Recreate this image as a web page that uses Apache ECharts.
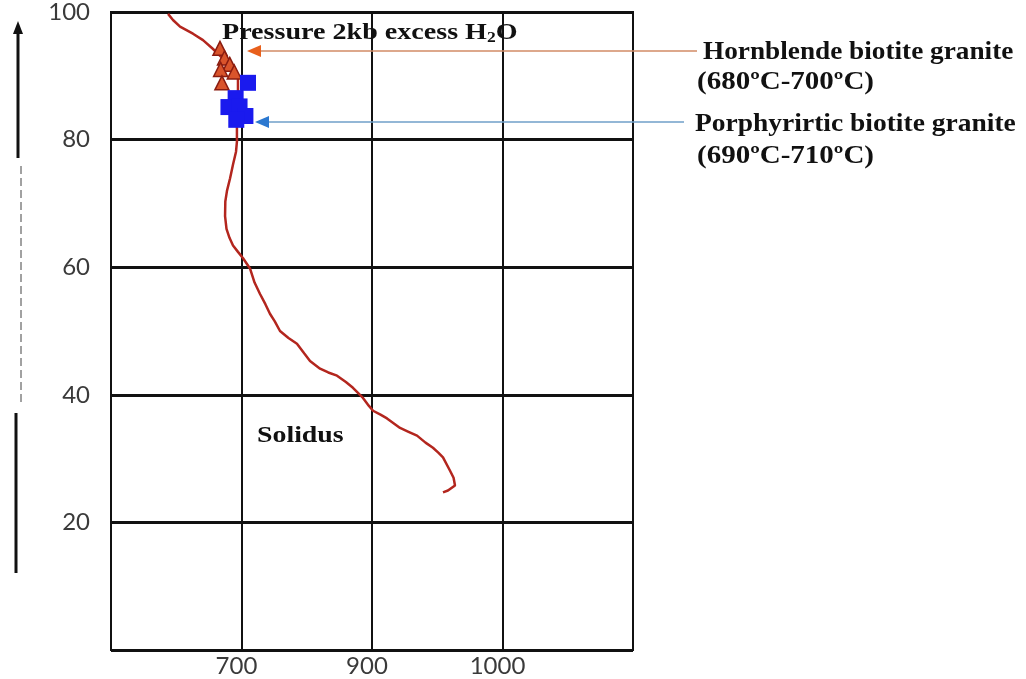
<!DOCTYPE html>
<html>
<head>
<meta charset="utf-8">
<script src="https://cdn.jsdelivr.net/npm/echarts@6/dist/echarts.min.js"></script>
<style>html,body{margin:0;padding:0;background:#fff}#c{width:1026px;height:679px}</style>
</head>
<body>
<div id="c"></div>
<script>
// x axis ticks (grid columns) and their printed labels
const xTicks = [600, 700, 800, 900, 1000];
const xTickLabels = ['', '700', '900', '1000', ''];
const yTicks = [0, 20, 40, 60, 80, 100];

// Solidus curve (x in axis units, y in axis units)
const solidusX = [643.7, 647.5, 652.9, 662.8, 670.5, 678.2, 685.8, 693.5, 697.3, 697.3, 696.5, 696.5, 696.5, 695.8, 693.5, 691.2, 688.9, 687.6, 687.4, 688.5, 690.8, 693.5, 697.3, 701.2, 706.5, 710.0, 714.2, 718.3, 721.8, 725.5, 729.5, 736.0, 742.5, 748.0, 752.5, 760.2, 766.5, 773.2, 780.0, 785.4, 793.1, 797.5, 800.8, 806.5, 811.5, 821.5, 828.0, 834.5, 841.0, 846.7, 851.0, 854.4, 859.8, 862.5, 863.6, 858.2, 854.4];
const solidusY = [99.7, 98.75, 97.7, 96.6, 95.6, 94.2, 92.7, 91.1, 89.5, 87.0, 84.4, 81.7, 79.7, 78.1, 76.1, 73.9, 72.0, 70.3, 68.0, 66.0, 64.6, 63.4, 62.4, 61.4, 59.8, 57.6, 55.8, 54.2, 52.7, 51.5, 50.0, 48.9, 48.0, 46.5, 45.3, 44.1, 43.5, 43.0, 42.0, 41.1, 39.5, 38.3, 37.5, 36.9, 36.3, 34.8, 34.2, 33.6, 32.5, 31.7, 30.9, 30.2, 28.1, 27.0, 25.8, 25.0, 24.7];

// Hornblende biotite granite samples (triangles)
const hbgX = [683.5, 687.0, 691.0, 684.0, 694.5, 685.0];
const hbgY = [94.3, 92.8, 91.8, 91.0, 90.6, 88.9];

// Porphyritic biotite granite samples (squares)
const pbgX = [705.0, 695.5, 690.0, 698.5, 703.0, 696.0];
const pbgY = [88.9, 86.5, 85.1, 85.2, 83.7, 83.1];

const zip = (a, b) => a.map((v, i) => [v, b[i]]);
const serif = '"Liberation Serif", "Times New Roman", serif';

const chart = echarts.init(document.getElementById('c'), null, {renderer: 'canvas'});

const option = {
  backgroundColor: '#ffffff',
  animation: false,
  grid: {left: 111, right: 393, top: 11, bottom: 29, show: true, borderColor: '#111', borderWidth: 2, backgroundColor: 'transparent'},
  xAxis: {
    type: 'value', min: xTicks[0], max: xTicks[xTicks.length - 1], interval: 100,
    axisLine: {show: true, lineStyle: {color: '#111', width: 2}},
    axisTick: {show: false},
    splitLine: {show: true, lineStyle: {color: '#111', width: 2}},
    axisLabel: {
      margin: 4, fontFamily: 'Lato', fontSize: 24, color: '#3a3a3a', padding: [0, 10, 0, 0],
      formatter: v => xTickLabels[xTicks.indexOf(v)] || ''
    }
  },
  yAxis: {
    type: 'value', min: yTicks[0], max: yTicks[yTicks.length - 1], interval: 20,
    axisLine: {show: true, lineStyle: {color: '#111', width: 2}},
    axisTick: {show: false},
    splitLine: {show: true, lineStyle: {color: '#111', width: 3}},
    axisLabel: {
      margin: 21, fontFamily: 'Lato', fontSize: 24, color: '#3a3a3a', padding: [0, 0, 8, 0],
      formatter: v => (v === 0 ? '' : String(v))
    }
  },
  series: [
    {
      type: 'line', data: zip(solidusX, solidusY), showSymbol: false, symbol: 'none',
      lineStyle: {color: '#b3261e', width: 2.5}, z: 3
    },
    {
      type: 'scatter', data: zip(hbgX, hbgY), symbol: 'triangle', symbolSize: 14,
      itemStyle: {color: '#d9542b', borderColor: '#8a1c10', borderWidth: 1.5, opacity: 1}, z: 4
    },
    {
      type: 'scatter', data: zip(pbgX, pbgY), symbol: 'rect', symbolSize: 16,
      itemStyle: {color: '#1a1aee', opacity: 1}, z: 5
    }
  ],
  graphic: [
    // annotation texts
    {type: 'text', x: 222, y: 33, scaleX: 1.17, z: 10, style: {
      text: 'Pressure 2kb excess H{sub|2}O', font: 'bold 24px ' + serif, fill: '#111', verticalAlign: 'middle',
      rich: {sub: {fontFamily: serif, fontWeight: 'bold', fontSize: 15, fill: '#111', verticalAlign: 'bottom', padding: [10, 0, 0, 0]}}
    }},
    {type: 'text', x: 257, y: 436, scaleX: 1.16, z: 10, style: {text: 'Solidus', font: 'bold 24px ' + serif, fill: '#111', verticalAlign: 'middle'}},
    {type: 'text', x: 703, y: 53, scaleX: 1.09, z: 10, style: {text: 'Hornblende biotite granite', font: 'bold 25px ' + serif, fill: '#111', verticalAlign: 'middle'}},
    {type: 'text', x: 697, y: 83, scaleX: 1.16, z: 10, style: {text: '(680ºC-700ºC)', font: 'bold 25px ' + serif, fill: '#111', verticalAlign: 'middle'}},
    {type: 'text', x: 695, y: 125, scaleX: 1.1, z: 10, style: {text: 'Porphyrirtic biotite granite', font: 'bold 25px ' + serif, fill: '#111', verticalAlign: 'middle'}},
    {type: 'text', x: 697, y: 157, scaleX: 1.16, z: 10, style: {text: '(690ºC-710ºC)', font: 'bold 25px ' + serif, fill: '#111', verticalAlign: 'middle'}},
    // annotation arrows
    {type: 'line', z: 9, shape: {x1: 258, y1: 51, x2: 697, y2: 51}, style: {stroke: '#d28b66', lineWidth: 1.5}},
    {type: 'polygon', z: 9, shape: {points: [[247, 51], [261, 45], [261, 57]]}, style: {fill: '#e8601c'}},
    {type: 'line', z: 9, shape: {x1: 266, y1: 122, x2: 684, y2: 122}, style: {stroke: '#6f9fc8', lineWidth: 1.5}},
    {type: 'polygon', z: 9, shape: {points: [[255, 122], [269, 116], [269, 128]]}, style: {fill: '#2b78d0'}},
    // left vertical arrow
    {type: 'line', z: 9, shape: {x1: 18, y1: 32, x2: 18, y2: 158}, style: {stroke: '#111', lineWidth: 3}},
    {type: 'polygon', z: 9, shape: {points: [[18, 21], [13, 34], [23, 34]]}, style: {fill: '#111'}},
    {type: 'line', z: 9, shape: {x1: 21, y1: 166, x2: 21, y2: 403}, style: {stroke: '#444', lineWidth: 1, lineDash: [8, 4]}},
    {type: 'line', z: 9, shape: {x1: 16, y1: 413, x2: 16, y2: 573}, style: {stroke: '#111', lineWidth: 3}}
  ]
};
chart.setOption(option);
</script>
</body>
</html>
